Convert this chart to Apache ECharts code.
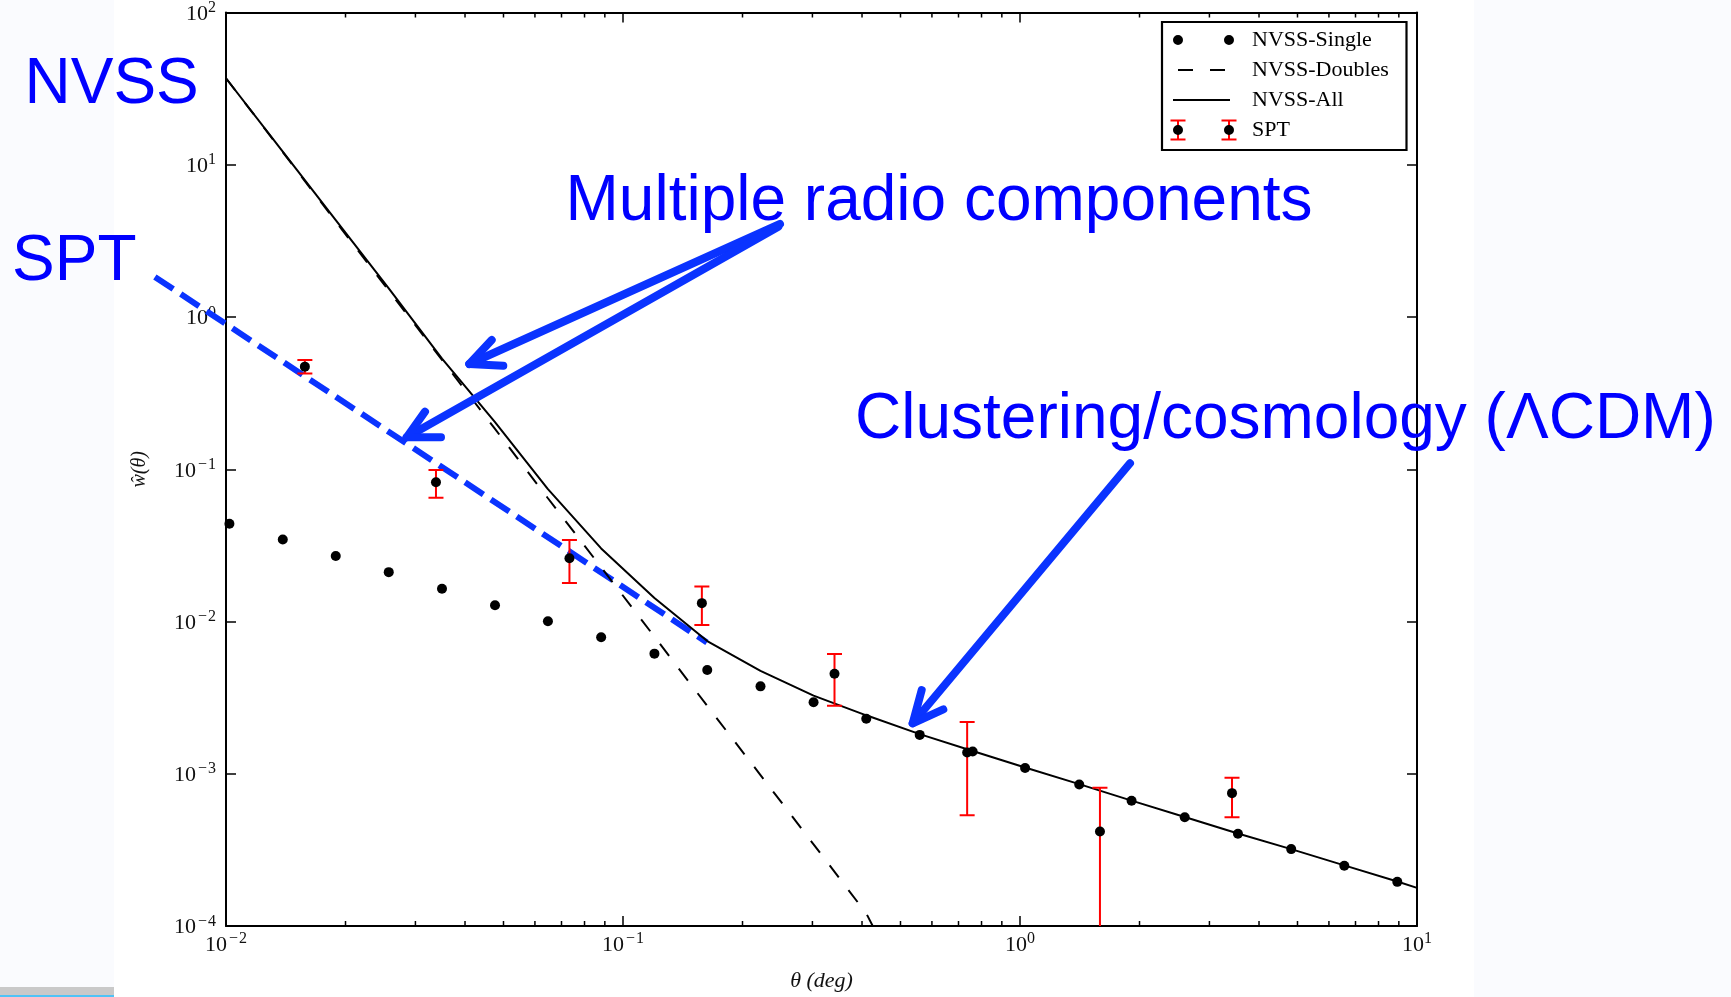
<!DOCTYPE html>
<html><head><meta charset="utf-8">
<script src="https://cdn.jsdelivr.net/npm/echarts@6/dist/echarts.min.js"></script>
<style>
html,body{margin:0;padding:0;background:#fafbfe;width:1731px;height:997px;overflow:hidden;}
#paper{position:absolute;left:114px;top:0;width:1360px;height:997px;background:#fff;}
#bar{position:absolute;left:0;top:987px;width:114px;height:8px;background:#c9c9c9;}
#bar2{position:absolute;left:0;top:995px;width:114px;height:2px;background:#4fc3f7;}
#chart{position:absolute;left:0;top:0;width:1731px;height:997px;}
</style></head><body>
<div id="paper"></div><div id="bar"></div><div id="bar2"></div>
<div id="chart"></div>
<script>
// ---- data ----
const thetaBins = [0.0102,0.0139,0.0189,0.0257,0.035,0.0476,0.0647,0.0881,0.12,0.163,0.222,0.302,0.41,0.559,0.76,1.03,1.41,1.91,2.6,3.54,4.82,6.56,8.92];
const nvssSingle = [0.0439,0.0346,0.0269,0.0211,0.0164,0.0128,0.01005,0.00787,0.00615,0.0048,0.00375,0.00295,0.0023,0.0018,0.0014,0.00109,0.00085,0.000664,0.000518,0.000404,0.00032,0.000249,0.000195];
const nvssAllTheta = [0.01,0.0139,0.0189,0.0257,0.035,0.0476,0.0647,0.0881,0.12,0.163,0.222,0.302,0.41,0.559,0.76,1.03,1.41,1.91,2.6,3.54,4.82,6.56,8.92,10];
const nvssAll = [37,12.2,4.33,1.54,0.533,0.204,0.074,0.0302,0.01426,0.00744,0.00474,0.00326,0.00242,0.00182,0.00141,0.0011,0.000855,0.000666,0.00052,0.000405,0.00032,0.00025,0.000196,0.000178];
const nvssDoublesTheta = [0.01,0.0139,0.0189,0.0257,0.035,0.0476,0.0647,0.0881,0.12,0.163,0.222,0.302,0.41,0.559];
const nvssDoubles = [37,12.1,4.24,1.49,0.523,0.184,0.0645,0.0227,0.00795,0.00279,0.00098,0.000344,0.000121,0.000025];
const sptTheta = [0.0158,0.0338,0.0733,0.158,0.341,0.736,1.59,3.42];
const sptW = [0.472,0.0822,0.026,0.0132,0.00454,0.00138,0.000418,0.000746];
const sptLo = [0.425,0.065,0.0179,0.0095,0.0028,0.000534,0.00005,0.000518];
const sptHi = [0.521,0.0989,0.0343,0.017,0.00612,0.00219,0.00081,0.000942];
const sptFitTheta = [0.00662,0.1627];
const sptFitW = [1.833,0.00728];
const xMinorMult = [2,3,4,5,6,7,8,9];
const xDecades = [0.01,0.1,1];
const xRange = [0.01,10];
const yRange = [0.0001,100];

const SERIF = '"Liberation Serif","Times New Roman",serif';
const SANS = '"Liberation Sans",Arial,Helvetica,sans-serif';
const BLUE_TXT = '#0000ff';
const BLUE_LN = '#0a33ff';

const zip = (a,b) => a.map((v,i)=>[v,b[i]]);
const minorTicks = [];
xDecades.forEach(d => xMinorMult.forEach(m => minorTicks.push([+(d*m).toPrecision(3), 1])));

function powLabel(v){
  const e = Math.round(Math.log10(v));
  return e < 0 ? '{b|10}{m|\u2212}{s|' + (-e) + '}' : '{b|10}{s|' + e + '}';
}
const rich = {
  b:{fontFamily:SERIF,fontSize:22,lineHeight:25,color:'#111',verticalAlign:'bottom'},
  m:{fontFamily:SERIF,fontSize:16,lineHeight:16,color:'#111',verticalAlign:'top',padding:[0,1,0,2]},
  s:{fontFamily:SERIF,fontSize:16,lineHeight:16,color:'#111',verticalAlign:'top'}
};
const axLine = {show:true,lineStyle:{color:'#000',width:2}};
const axTick = {show:true,inside:true,length:10,lineStyle:{color:'#000',width:1.5}};

const dotsPath = 'path://M0,5a5,5 0 1,0 10,0a5,5 0 1,0 -10,0ZM51,5a5,5 0 1,0 10,0a5,5 0 1,0 -10,0Z';
const dashPath = 'path://M0,0L0,0ZM61,10L61,10ZM5,4h15v2h-15zM37,4h15v2h-15z';
const solidPath = 'path://M0,0L0,0ZM61,10L61,10ZM0,4h57v2h-57z';
const barsPath = 'path://M0,0h15v2h-15zM0,19h15v2h-15zM6.5,0h2v21h-2zM51,0h15v2h-15zM51,19h15v2h-15zM57.5,0h2v21h-2z';

const TXT = (t,x,y) => ({type:'text',z:20,style:{text:t,x:x,y:y,font:'64px '+SANS,fill:BLUE_TXT,textAlign:'left',textVerticalAlign:'middle',verticalAlign:'middle'}});
const PL = (pts) => ({type:'polyline',z:20,shape:{points:pts},style:{stroke:BLUE_LN,lineWidth:8,fill:null,lineCap:'round',lineJoin:'round'}});

const chart = echarts.init(document.getElementById('chart'), null, {renderer:'canvas'});
const option = {
  animation:false,
  backgroundColor:'transparent',
  grid:{left:226,top:12,right:314,bottom:65,containLabel:false},
  xAxis:[
    {type:'log',logBase:10,min:xRange[0],max:xRange[1],position:'bottom',
     axisLine:axLine,axisTick:axTick,splitLine:{show:false},
     axisLabel:{formatter:powLabel,rich:rich,margin:5},
     name:'\u03b8 (deg)',nameLocation:'middle',nameGap:44,
     nameTextStyle:{fontFamily:SERIF,fontStyle:'italic',fontSize:22,color:'#111'}},
    {type:'log',logBase:10,min:xRange[0],max:xRange[1],position:'top',
     axisLine:axLine,axisTick:axTick,splitLine:{show:false},axisLabel:{show:false}}
  ],
  yAxis:[
    {type:'log',logBase:10,min:yRange[0],max:yRange[1],position:'left',
     axisLine:axLine,axisTick:axTick,splitLine:{show:false},
     axisLabel:{formatter:powLabel,rich:rich,margin:10},
     name:'\u0175(\u03b8)',nameLocation:'middle',nameGap:76,nameRotate:90,
     nameTextStyle:{fontFamily:SERIF,fontStyle:'italic',fontSize:20,color:'#111'}},
    {type:'log',logBase:10,min:yRange[0],max:yRange[1],position:'right',
     axisLine:axLine,axisTick:axTick,splitLine:{show:false},axisLabel:{show:false}}
  ],
  legend:[
    {orient:'vertical',left:1173,top:29,padding:0,itemWidth:61,itemHeight:10,itemGap:8,
     selectedMode:false,z:6,
     textStyle:{fontFamily:SERIF,fontSize:22,color:'#000',padding:[0,0,0,13]},
     data:[{name:'NVSS-Single',icon:dotsPath,itemStyle:{color:'#000',opacity:1}},
           {name:'NVSS-Doubles',icon:dashPath,itemStyle:{color:'#000',opacity:1}},
           {name:'NVSS-All',icon:solidPath,itemStyle:{color:'#000',opacity:1}},
           {name:'SPT',icon:dotsPath,itemStyle:{color:'#000',opacity:1}}]},
    {orient:'vertical',left:1170.5,top:119,padding:0,itemWidth:66,itemHeight:21,
     selectedMode:false,z:5,
     textStyle:{fontFamily:SERIF,fontSize:22,color:'rgba(0,0,0,0)',padding:[0,0,0,13]},
     data:[{name:'SPT',icon:barsPath,itemStyle:{color:'#ff0000',opacity:1}}]}
  ],
  graphic:[
    {type:'rect',z:3,shape:{x:1162,y:22,width:244.5,height:128},style:{fill:'#fff',stroke:'#000',lineWidth:2.2}},
    TXT('NVSS',24.5,85),
    TXT('SPT',12,262),
    TXT('Multiple radio components',565.5,202),
    TXT('Clustering/cosmology (\u039bCDM)',855,420),
    PL([[780,224],[469.3,364]]),
    PL([[491.7,340],[469.3,364],[503.3,365.7]]),
    PL([[778.3,226.7],[406.7,437.3]]),
    PL([[425,411.7],[406.7,437.3],[441,437.3]]),
    PL([[1130,463.3],[912.7,723.3]]),
    PL([[921.7,690],[912.7,723.3],[943.3,709.3]])
  ],
  series:[
    {type:'custom',name:'minor',silent:true,xAxisIndex:0,yAxisIndex:0,data:minorTicks,
     renderItem:function(params,api){
       const v = api.value(0);
       const b = api.coord([v,yRange[0]]);
       const t = api.coord([v,yRange[1]]);
       return {type:'group',children:[
         {type:'line',shape:{x1:b[0],y1:b[1],x2:b[0],y2:b[1]-5},style:{stroke:'#000',lineWidth:1.5}},
         {type:'line',shape:{x1:t[0],y1:t[1],x2:t[0],y2:t[1]+5},style:{stroke:'#000',lineWidth:1.5}}
       ]};
     }},
    {type:'line',name:'NVSS-Doubles',data:zip(nvssDoublesTheta,nvssDoubles),symbol:'none',
     lineStyle:{color:'#000',width:2,type:[15,16]},itemStyle:{color:'#000'},clip:true},
    {type:'line',name:'NVSS-All',data:zip(nvssAllTheta,nvssAll),symbol:'none',
     lineStyle:{color:'#000',width:2},itemStyle:{color:'#000'},clip:true},
    {type:'custom',name:'SPT fit',silent:true,clip:false,z:3,
     data:[[sptFitTheta[0],sptFitW[0],sptFitTheta[1],sptFitW[1]]],
     renderItem:function(params,api){
       const p0 = api.coord([api.value(0),api.value(1)]);
       const p1 = api.coord([api.value(2),api.value(3)]);
       return {type:'line',shape:{x1:p0[0],y1:p0[1],x2:p1[0],y2:p1[1]},
               style:{stroke:BLUE_LN,lineWidth:6,lineDash:[22,9],fill:null}};
     }},
    {type:'custom',name:'SPT',clip:true,z:4,
     data:sptTheta.map((t,i)=>[t,sptLo[i],sptHi[i]]),
     encode:{x:0,y:[1,2]},
     renderItem:function(params,api){
       const hi = api.coord([api.value(0),api.value(2)]);
       const lo = api.coord([api.value(0),api.value(1)]);
       const w = 7.5;
       const st = {stroke:'#ff0000',lineWidth:2};
       return {type:'group',children:[
         {type:'line',shape:{x1:hi[0],y1:hi[1],x2:lo[0],y2:lo[1]},style:st},
         {type:'line',shape:{x1:hi[0]-w,y1:hi[1],x2:hi[0]+w,y2:hi[1]},style:st},
         {type:'line',shape:{x1:lo[0]-w,y1:lo[1],x2:lo[0]+w,y2:lo[1]},style:st}
       ]};
     }},
    {type:'scatter',name:'NVSS-Single',data:zip(thetaBins,nvssSingle),symbol:'circle',symbolSize:10,
     itemStyle:{color:'#000',opacity:1},z:5},
    {type:'scatter',name:'SPT',data:zip(sptTheta,sptW),symbol:'circle',symbolSize:10,
     itemStyle:{color:'#000',opacity:1},z:5}
  ]
};
chart.setOption(option);
</script></body></html>
